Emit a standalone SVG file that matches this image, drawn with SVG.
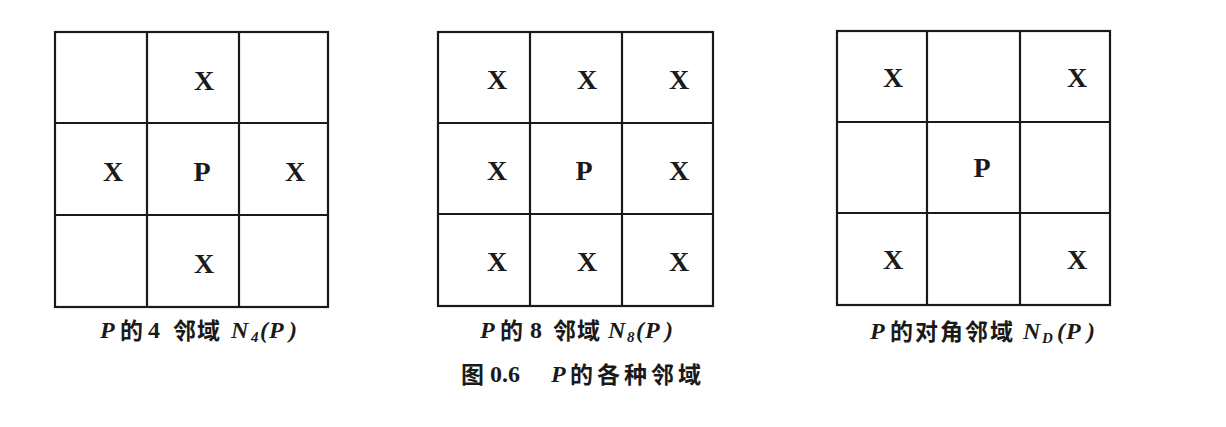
<svg xmlns="http://www.w3.org/2000/svg" width="1226" height="427" viewBox="0 0 1226 427">
<style>
.bg{fill:#ffffff}
.grid{fill:none;stroke:#1a1a1a;stroke-width:2.2}
.cell{font-family:"Liberation Serif","Times New Roman",serif;font-weight:bold;font-size:28px;fill:#1a1a1a;text-anchor:middle}
.lat{font-family:"Liberation Serif","Times New Roman",serif;font-weight:bold;font-style:italic;font-size:24px;fill:#1a1a1a}
.num{font-family:"Liberation Serif","Times New Roman",serif;font-weight:bold;font-size:24px;fill:#1a1a1a}
.sub{font-family:"Liberation Serif","Times New Roman",serif;font-weight:bold;font-style:italic;font-size:15px;fill:#1a1a1a}
.cjk{font-family:"Noto Sans CJK SC","Noto Sans CJK JP",sans-serif;font-weight:bold;font-size:23px;fill:#1a1a1a}
</style>
<rect class="bg" x="0" y="0" width="1226" height="427"/>

<g id="n4">
  <rect class="grid" x="55" y="32" width="273" height="275"/>
  <path class="grid" d="M147 32V307M239 32V307M55 123H328M55 215H328"/>
  <text class="cell" x="204" y="90">X</text>
  <text class="cell" x="113" y="181">X</text>
  <text class="cell" x="202" y="181">P</text>
  <text class="cell" x="295" y="181">X</text>
  <text class="cell" x="204" y="273">X</text>
  <g id="n4-caption">
    <text class="lat" x="100" y="338">P</text>
    <text class="cjk" x="120" y="339">的</text>
    <text class="num" x="148" y="338">4</text>
    <text class="cjk" x="173" y="339" letter-spacing="1">邻域</text>
    <text class="lat" x="231" y="338">N</text>
    <text class="sub" x="251" y="342">4</text>
    <text class="lat" x="260" y="338">(</text>
    <text class="lat" x="269" y="338">P</text>
    <text class="lat" x="289" y="338">)</text>
  </g>
</g>

<g id="n8">
  <rect class="grid" x="438" y="32" width="275" height="274"/>
  <path class="grid" d="M530 32V306M622 32V306M438 123H713M438 214H713"/>
  <text class="cell" x="497" y="89">X</text>
  <text class="cell" x="587" y="89">X</text>
  <text class="cell" x="679" y="89">X</text>
  <text class="cell" x="497" y="180">X</text>
  <text class="cell" x="584" y="180">P</text>
  <text class="cell" x="679" y="180">X</text>
  <text class="cell" x="497" y="271">X</text>
  <text class="cell" x="587" y="271">X</text>
  <text class="cell" x="679" y="271">X</text>
  <g id="n8-caption">
    <text class="lat" x="480" y="338">P</text>
    <text class="cjk" x="500" y="339">的</text>
    <text class="num" x="530" y="338">8</text>
    <text class="cjk" x="553" y="339" letter-spacing="1">邻域</text>
    <text class="lat" x="608" y="338">N</text>
    <text class="sub" x="627" y="342">8</text>
    <text class="lat" x="636" y="338">(</text>
    <text class="lat" x="645" y="338">P</text>
    <text class="lat" x="665" y="338">)</text>
  </g>
</g>

<g id="nd">
  <rect class="grid" x="837" y="31" width="273" height="274"/>
  <path class="grid" d="M927 31V305M1020 31V305M837 122H1110M837 213H1110"/>
  <text class="cell" x="893" y="87">X</text>
  <text class="cell" x="1077" y="87">X</text>
  <text class="cell" x="982" y="177">P</text>
  <text class="cell" x="893" y="269">X</text>
  <text class="cell" x="1077" y="269">X</text>
  <g id="nd-caption">
    <text class="lat" x="870" y="339">P</text>
    <text class="cjk" x="890" y="340" letter-spacing="2">的对角邻域</text>
    <text class="lat" x="1023" y="339">N</text>
    <text class="sub" x="1042" y="343">D</text>
    <text class="lat" x="1057" y="339">(</text>
    <text class="lat" x="1066" y="339">P</text>
    <text class="lat" x="1087" y="339">)</text>
  </g>
</g>

<g id="title">
  <text class="cjk" x="461" y="383">图</text>
  <text class="num" x="490" y="382" font-size="25">0.6</text>
  <text class="lat" x="551" y="382" font-size="25">P</text>
  <text class="cjk" x="570" y="383" letter-spacing="4">的各种邻域</text>
</g>
</svg>
